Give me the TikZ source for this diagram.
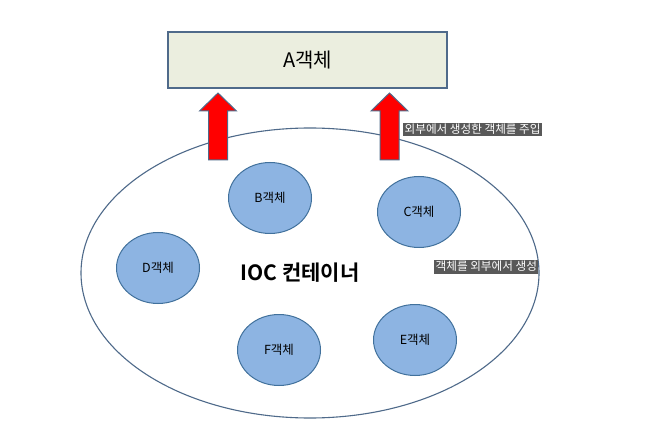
\documentclass[tikz,border=0pt]{standalone}
\usepackage{fontspec}
\setmainfont{Noto Sans CJK KR}
\newfontfamily\krbold{Noto Sans CJK KR Bold}
\usetikzlibrary{shapes.geometric}
\definecolor{boxfill}{HTML}{EBEEDF}
\definecolor{boxline}{HTML}{4F6A8A}
\definecolor{objfill}{HTML}{8DB4E2}
\definecolor{objline}{HTML}{41719C}
\definecolor{tagfill}{HTML}{595959}
\tikzset{
  abox/.style={draw=boxline, fill=boxfill, line width=1.2pt, minimum width=279pt, minimum height=56pt, inner sep=0pt, font=\fontsize{20}{24}\selectfont},
  obj/.style={ellipse, draw=objline, fill=objfill, line width=1pt, minimum width=83pt, minimum height=71pt, inner sep=0pt, font=\fontsize{12.5}{15}\selectfont},
  container/.style={ellipse, draw=boxline, line width=1.1pt, minimum width=458pt, minimum height=290pt, inner sep=0pt},
  redarrow/.style={fill=red, draw=boxline, line width=1pt, line join=miter},
  tag/.style={fill=tagfill, text=white, inner xsep=1.5pt, inner ysep=0pt, text height=10pt, text depth=3pt, font=\fontsize{11.6}{13}\selectfont, anchor=west}
}
\begin{document}
\begin{tikzpicture}[x=1pt,y=-1pt]
\useasboundingbox (0,0) rectangle (650,438);
\fill[white] (0,0) rectangle (650,438);
\node[container] (ioc) at (310,273) {};
\node[abox] (a) at (307.5,60) {A객체};
\node[obj] (b) at (270,198) {B객체};
\node[obj] (c) at (419,212) {C객체};
\node[obj] (d) at (158,268) {D객체};
\node[obj] (e) at (415,340) {E객체};
\node[obj] (f) at (279,350) {F객체};
\node[font=\krbold\fontsize{21}{24}\selectfont] (title) at (300,273) {IOC 컨테이너};
% block arrows
\coordinate (t1) at (218,93);
\coordinate (t2) at (389.5,93);
\draw[redarrow] (t1) -- ++(18.5,18) -- ++(-9,0) -- ++(0,49) -- ++(-19,0) -- ++(0,-49) -- ++(-9,0) -- cycle;
\draw[redarrow] (t2) -- ++(18.5,18) -- ++(-9,0) -- ++(0,49) -- ++(-19,0) -- ++(0,-49) -- ++(-9,0) -- cycle;
\node[tag] (inj) at (403,130) {외부에서 생성한 객체를 주입\hspace{3pt}};
\node[tag] (gen) at (434,267) {객체를 외부에서 생성\hspace{12pt}};
\end{tikzpicture}
\end{document}
